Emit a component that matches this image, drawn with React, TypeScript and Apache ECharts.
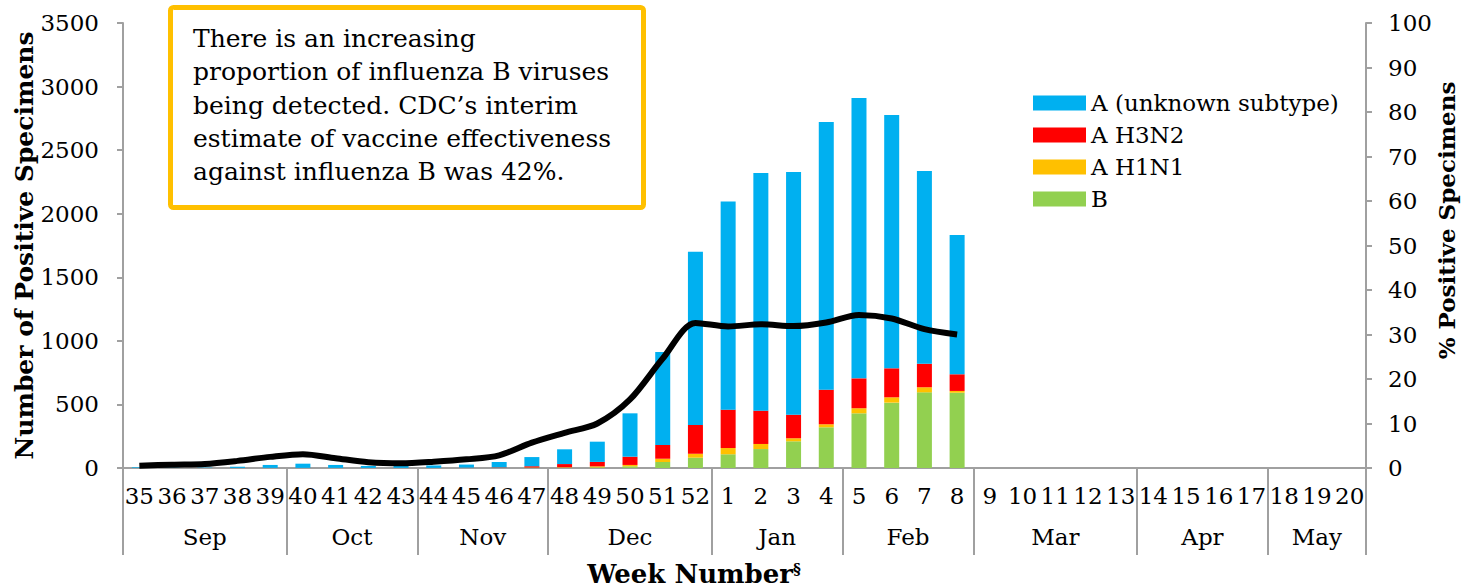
import React, { useEffect, useRef } from "react";
import * as echarts from "echarts";

const weeks = [
  "35", "36", "37", "38", "39", "40", "41", "42", "43", "44", "45", "46", "47", "48", "49", "50", "51", "52",
  "1", "2", "3", "4", "5", "6", "7", "8", "9", "10", "11", "12", "13", "14", "15", "16", "17", "18", "19", "20",
];
const months = ["Sep", "Oct", "Nov", "Dec", "Jan", "Feb", "Mar", "Apr", "May"];
const weeksPerMonth = [5, 4, 4, 5, 4, 4, 5, 4, 3];

const fluB = [0, 0, 0, 0, 0, 0, 0, 0, 0, 0, 1, 1, 2, 3, 5, 13, 47, 81, 108, 149, 210, 320, 430, 514, 595, 592];
const aH1N1 = [0, 0, 0, 0, 0, 0, 0, 0, 0, 0, 0, 1, 2, 3, 8, 11, 26, 31, 49, 40, 24, 24, 40, 42, 40, 14];
const aH3N2 = [0, 0, 0, 1, 1, 1, 1, 1, 1, 1, 2, 3, 10, 25, 35, 65, 108, 226, 302, 262, 185, 272, 235, 228, 185, 131];
const aUnknown = [5, 3, 3, 9, 23, 33, 23, 15, 15, 19, 24, 42, 72, 116, 159, 341, 731, 1362, 1637, 1869, 1909, 2105, 2205, 1992, 1516, 1096];
const pctPositive = [0.5, 0.75, 0.9, 1.6, 2.5, 3.1, 2.2, 1.3, 1.05, 1.4, 1.95, 2.85, 5.7, 7.9, 10.0, 15.4, 24.6, 32.6, 31.8, 32.3, 31.9, 32.7, 34.4, 33.6, 31.2, 30.0];

const noteLines = [
  "There is an increasing",
  "proportion of influenza B viruses",
  "being detected. CDC\u2019s interim",
  "estimate of vaccine effectiveness",
  "against influenza B was 42%.",
];

const FONT = "'DejaVu Serif', 'Liberation Serif', serif";
const AXIS_COLOR = "#a0a0a0";
const TICK_FS = 23;

export default function App() {
  const ref = useRef<HTMLDivElement>(null);
  useEffect(() => {
    if (!ref.current) return;
    const chart = echarts.init(ref.current, undefined, { renderer: "svg" });

    const boundaries: number[] = [0];
    const centers: number[] = [];
    let acc = 0;
    weeksPerMonth.forEach((n) => {
      centers.push(acc + n / 2);
      acc += n;
      boundaries.push(acc);
    });
    const pad = (arr: number[]) => weeks.map((_, i) => (i < arr.length ? arr[i] : null));

    const barSeries = (name: string, data: number[], color: string) => ({
      name,
      type: "bar",
      stack: "total",
      data: pad(data),
      barWidth: 15,
      itemStyle: { color },
      xAxisIndex: 0,
      yAxisIndex: 0,
    });

    chart.setOption({
      animation: false,
      backgroundColor: "#ffffff",
      textStyle: { fontFamily: FONT },
      grid: { left: 123, right: 108, top: 23, bottom: 120, containLabel: false, outerBoundsMode: "none" },
      legend: {
        orient: "vertical",
        left: 1028,
        top: 86,
        data: ["A (unknown subtype)", "A H3N2", "A H1N1", "B"],
        icon: "rect",
        itemWidth: 53,
        itemHeight: 15,
        itemGap: 8,
        textStyle: { fontFamily: FONT, fontSize: 23, color: "#000", lineHeight: 24 },
        selectedMode: false,
      },
      xAxis: [
        {
          type: "category",
          data: weeks,
          position: "bottom",
          axisLine: { lineStyle: { color: AXIS_COLOR, width: 2 } },
          axisTick: { show: false },
          axisLabel: { interval: 0, fontFamily: FONT, fontSize: TICK_FS, color: "#000", margin: 16 },
        },
        {
          type: "value",
          min: 0,
          max: weeks.length,
          position: "bottom",
          axisLine: { show: false },
          splitLine: { show: false },
          axisTick: {
            show: true,
            customValues: boundaries,
            length: 87,
            lineStyle: { color: AXIS_COLOR, width: 2 },
          },
          axisLabel: {
            customValues: centers,
            formatter: (v: number) => {
              const idx = centers.findIndex((c) => Math.abs(c - v) < 1e-6);
              return idx >= 0 ? months[idx] : "";
            },
            fontFamily: FONT,
            fontSize: TICK_FS,
            color: "#000",
            margin: 57,
          },
        },
      ],
      yAxis: [
        {
          type: "value",
          min: 0,
          max: 3500,
          interval: 500,
          position: "left",
          name: "Number of Positive Specimens",
          nameLocation: "middle",
          nameRotate: 90,
          nameGap: 86,
          nameMoveOverlap: false,
          nameTextStyle: { fontFamily: FONT, fontSize: 25, fontWeight: "bold", color: "#000" },
          axisLine: { show: true, lineStyle: { color: AXIS_COLOR, width: 2 } },
          axisTick: { show: true, length: 6, lineStyle: { color: AXIS_COLOR, width: 2 } },
          splitLine: { show: false },
          axisLabel: {
            fontFamily: FONT,
            fontSize: TICK_FS,
            color: "#000",
            margin: 24,
            formatter: (v: number) => String(v),
          },
        },
        {
          type: "value",
          min: 0,
          max: 100,
          interval: 10,
          position: "right",
          name: "% Positive Specimens",
          nameLocation: "middle",
          nameRotate: 90,
          nameGap: 69,
          nameMoveOverlap: false,
          nameTextStyle: {
            fontFamily: FONT,
            fontSize: 23,
            fontWeight: "bold",
            color: "#000",
            padding: [0, 0, 0, 50],
          },
          axisLine: { show: true, lineStyle: { color: AXIS_COLOR, width: 2 } },
          axisTick: { show: true, length: 6, lineStyle: { color: AXIS_COLOR, width: 2 } },
          splitLine: { show: false },
          axisLabel: { fontFamily: FONT, fontSize: TICK_FS, color: "#000", margin: 22 },
        },
      ],
      series: [
        barSeries("B", fluB, "#92d050"),
        barSeries("A H1N1", aH1N1, "#ffc000"),
        barSeries("A H3N2", aH3N2, "#ff0000"),
        barSeries("A (unknown subtype)", aUnknown, "#00b0f0"),
        {
          name: "% Positive",
          type: "line",
          data: pad(pctPositive),
          xAxisIndex: 0,
          yAxisIndex: 1,
          smooth: 0.3,
          showSymbol: false,
          symbol: "none",
          lineStyle: { color: "#000", width: 6 },
          z: 5,
        },
      ],
      graphic: [
        {
          type: "rect",
          shape: { x: 170.5, y: 7.5, width: 473, height: 200, r: 3 },
          style: { fill: "#ffffff", stroke: "#ffc000", lineWidth: 5 },
          z: 10,
        },
        {
          type: "text",
          x: 193,
          y: 22,
          z: 11,
          style: {
            text: noteLines.join("\n"),
            fontFamily: FONT,
            fontSize: 25,
            lineHeight: 33.3,
            fill: "#000",
            verticalAlign: "top",
          },
        },
        {
          type: "text",
          x: 694,
          y: 574,
          z: 11,
          style: {
            text: "Week Number{s|\u00a7}",
            fontFamily: FONT,
            fontSize: 26,
            fontWeight: "bold",
            fill: "#000",
            align: "center",
            verticalAlign: "middle",
            rich: {
              s: { fontFamily: FONT, fontSize: 15, fontWeight: "bold", fill: "#000", verticalAlign: "top", padding: [0, 0, 10, 0] },
            },
          },
        },
      ],
    });
    return () => chart.dispose();
  }, []);
  return (
    <div
      ref={ref}
      style={{ position: "fixed", left: 0, top: 0, width: 1474, height: 588, background: "#fff" }}
    />
  );
}
